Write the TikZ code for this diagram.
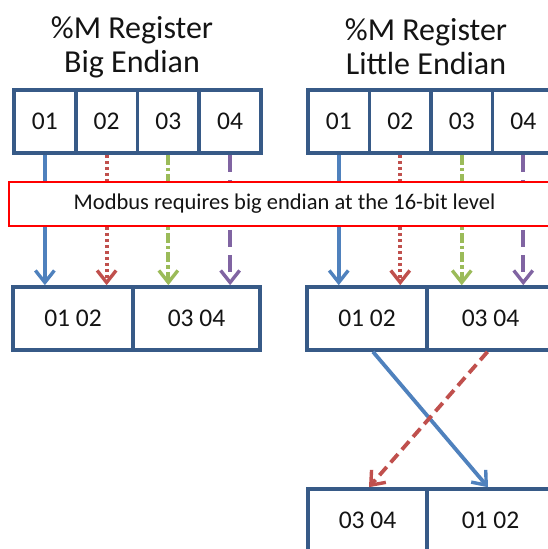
\documentclass[tikz,border=0pt]{standalone}
\usepackage{fontspec}
\setmainfont{Carlito}
\usetikzlibrary{arrows.meta}
\definecolor{boxblue}{HTML}{375A87}
\definecolor{ablue}{HTML}{4F81BD}
\definecolor{ared}{HTML}{C0504D}
\definecolor{agreen}{HTML}{9BBB59}
\definecolor{apurple}{HTML}{8064A2}
\definecolor{txt}{HTML}{141414}
\tikzset{
  cell/.style={draw=boxblue, line width=3.6pt, fill=white, inner sep=0pt, minimum height=63pt, text=txt, font=\fontsize{25.5}{28}\selectfont},
  small/.style={cell, minimum width=61.75pt},
  wide/.style={cell, minimum width=#1},
  title/.style={align=center, text=txt, font=\fontsize{32}{34}\selectfont, inner sep=0pt},
  arr/.style={line width=3.8pt, -{Straight Barb[length=12pt,width=19pt,line width=3.4pt]}},
  ab/.style={arr, ablue},
  ar/.style={arr, ared, dash pattern=on 3.5pt off 2.5pt},
  ag/.style={arr, agreen, dash pattern=on 10pt off 3pt on 3.5pt off 3pt},
  ap/.style={arr, apurple, dash pattern=on 17pt off 8pt},
  note/.style={draw=red, line width=1.8pt, fill=white, minimum width=551pt, minimum height=44pt, inner sep=0pt, text=txt, font=\fontsize{22.5}{24}\selectfont}
}
\begin{document}
\begin{tikzpicture}[x=1pt,y=-1pt]
\useasboundingbox (0,0) rectangle (547,549);
% titles
\node[title] (tl) at (132,47) {\%M Register\\Big Endian};
\node[title] (tr) at (426,47) {\%M Register\\Little Endian};
% top registers
\node[small] (a1) at (44.875,121.5) {01};
\node[small] (a2) at (106.625,121.5) {02};
\node[small] (a3) at (168.375,121.5) {03};
\node[small] (a4) at (230.125,121.5) {04};
\node[small] (c1) at (338.75,121.5) {01};
\node[small] (c2) at (400.25,121.5) {02};
\node[small] (c3) at (461.75,121.5) {03};
\node[small] (c4) at (523.25,121.5) {04};
% middle registers
\node[wide=120pt] (b1) at (73,318.5) {01 02};
\node[wide=127pt] (b2) at (196.5,318.5) {03 04};
\node[wide=120pt] (d1) at (367,318.5) {01 02};
\node[wide=127pt] (d2) at (490.5,318.5) {03 04};
% bottom register
\node[wide=119pt] (e1) at (367.5,520.5) {03 04};
\node[wide=127pt] (e2) at (490.5,520.5) {01 02};
% vertical arrows
\draw[ab] (a1.south) -- (a1.south |- b1.north);
\draw[ar] (a2.south) -- (a2.south |- b1.north);
\draw[ag] (a3.south) -- (a3.south |- b2.north);
\draw[ap] (a4.south) -- (a4.south |- b2.north);
\draw[ab] (c1.south) -- (c1.south |- d1.north);
\draw[ar] (c2.south) -- (c2.south |- d1.north);
\draw[ag] (c3.south) -- (c3.south |- d2.north);
\draw[ap] (c4.south) -- (c4.south |- d2.north);
% note box
\node[note] (n) at (284.5,204) {Modbus requires big endian at the 16-bit level};
% crossing arrows
\draw[ab] ([xshift=6pt]d1.south) -- ([xshift=-2.5pt]e2.north);
\draw[arr, ared, dash pattern=on 11pt off 6pt] ([xshift=-3pt]d2.south) -- ([xshift=1.5pt]e1.north);
\end{tikzpicture}
\end{document}
